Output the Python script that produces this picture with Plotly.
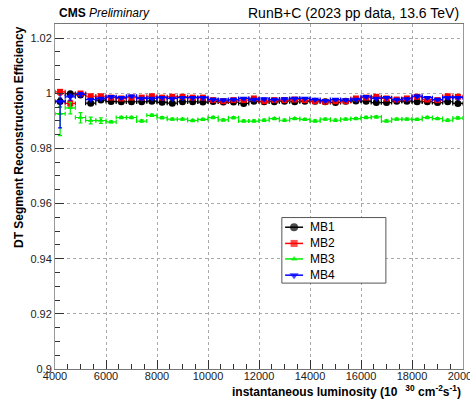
import plotly.graph_objects as go

# Luminosity bins: centres every 400 (x 10^30 cm^-2 s^-1) from 4200 to 19800
lumi_bins = [4200 + 400 * i for i in range(40)]
bin_half_width = 200

mb1 = [0.9970, 0.9998, 0.9994, 0.9964, 0.9975, 0.9970, 0.9969, 0.9969, 0.9969, 0.9971,
       0.9967, 0.9964, 0.9969, 0.9969, 0.9968, 0.9970, 0.9968, 0.9968, 0.9963, 0.9971,
       0.9969, 0.9969, 0.9971, 0.9969, 0.9971, 0.9971, 0.9969, 0.9966, 0.9971, 0.9972,
       0.9971, 0.9966, 0.9966, 0.9971, 0.9971, 0.9969, 0.9969, 0.9966, 0.9969, 0.9963]
mb2 = [1.0005, 0.9963, 0.9999, 0.9989, 0.9989, 0.9984, 0.9981, 0.9984, 0.9984, 0.9989,
       0.9984, 0.9987, 0.9987, 0.9984, 0.9984, 0.9975, 0.9971, 0.9975, 0.9975, 0.9981,
       0.9971, 0.9975, 0.9975, 0.9977, 0.9975, 0.9971, 0.9969, 0.9971, 0.9971, 0.9981,
       0.9984, 0.9987, 0.9981, 0.9977, 0.9981, 0.9987, 0.9977, 0.9975, 0.9989, 0.9987]
mb3 = [0.9926, 0.9947, 0.9912, 0.9901, 0.9901, 0.9896, 0.9912, 0.9912, 0.9899, 0.9920,
       0.9911, 0.9906, 0.9906, 0.9901, 0.9905, 0.9912, 0.9903, 0.9911, 0.9899, 0.9899,
       0.9902, 0.9908, 0.9902, 0.9908, 0.9905, 0.9899, 0.9906, 0.9902, 0.9906, 0.9908,
       0.9912, 0.9914, 0.9899, 0.9906, 0.9906, 0.9905, 0.9912, 0.9908, 0.9902, 0.9910]
mb4 = [0.9969, 0.9987, 0.9996, 0.9977, 0.9981, 0.9987, 0.9984, 0.9989, 0.9981, 0.9981,
       0.9984, 0.9981, 0.9984, 0.9984, 0.9984, 0.9977, 0.9975, 0.9977, 0.9981, 0.9977,
       0.9979, 0.9977, 0.9979, 0.9981, 0.9981, 0.9977, 0.9973, 0.9977, 0.9975, 0.9977,
       0.9987, 0.9981, 0.9984, 0.9977, 0.9979, 0.9989, 0.9984, 0.9977, 0.9984, 0.9984]

# Asymmetric efficiency uncertainties (upper / lower); only the low-statistics bins are large
mb1_up = [0.0012, 0.0006, 0.0005] + [0.0003] * 37
mb1_dn = [0.0020, 0.0008, 0.0006] + [0.0003] * 37
mb2_up = [0.0006, 0.0010, 0.0005] + [0.0003] * 37
mb2_dn = [0.0012, 0.0012, 0.0006] + [0.0003] * 37
mb3_up = [0.0025, 0.0020, 0.0018, 0.0012, 0.0010] + [0.0004] * 35
mb3_dn = [0.0080, 0.0022, 0.0020, 0.0012, 0.0010] + [0.0004] * 35
mb4_up = [0.0030, 0.0010, 0.0006] + [0.0003] * 37
mb4_dn = [0.0095, 0.0012, 0.0008] + [0.0003] * 37

x_ticks = [4000, 6000, 8000, 10000, 12000, 14000, 16000, 18000, 20000]
x_tick_text = ["4000", "6000", "8000", "10000", "12000", "14000", "16000", "18000", "20000"]
y_ticks = [0.9, 0.92, 0.94, 0.96, 0.98, 1.0, 1.02]
y_tick_text = ["0.9", "0.92", "0.94", "0.96", "0.98", "1", "1.02"]

series = [
    ("MB1", mb1, mb1_up, mb1_dn, "#000000", "circle", 7),
    ("MB2", mb2, mb2_up, mb2_dn, "#ff0000", "square", 6),
    ("MB3", mb3, mb3_up, mb3_dn, "#00ee00", "triangle-up", 5),
    ("MB4", mb4, mb4_up, mb4_dn, "#0000ff", "triangle-down", 7),
]

FONT = "Liberation Sans, Arial, sans-serif"
fig = go.Figure()
for name, vals, up, dn, color, symbol, size in series:
    fig.add_trace(go.Scatter(
        x=lumi_bins, y=vals, mode="markers", name=name, showlegend=False,
        marker=dict(color=color, symbol=symbol, size=size, line=dict(width=0)),
        error_x=dict(type="constant", value=bin_half_width, color=color,
                     thickness=1.2, width=2),
        error_y=dict(type="data", symmetric=False, array=up, arrayminus=dn,
                     color=color, thickness=1.2, width=2),
    ))

# Legend drawn in a unit overlay frame covering the plot area
leg_x0, leg_x1, leg_y0, leg_y1 = 0.556, 0.811, 0.249, 0.439
row_y = [0.411, 0.364, 0.319, 0.272]
line_x0, line_x1, text_x = 0.564, 0.608, 0.619

fig.add_trace(go.Scatter(
    x=[leg_x0, leg_x1, leg_x1, leg_x0, leg_x0], y=[leg_y0, leg_y0, leg_y1, leg_y1, leg_y0],
    mode="lines", fill="toself", fillcolor="white", line=dict(color="#555", width=1),
    xaxis="x2", yaxis="y2", showlegend=False, hoverinfo="skip",
))
for (name, vals, up, dn, color, symbol, size), ry in zip(series, row_y):
    fig.add_trace(go.Scatter(
        x=[line_x0, line_x1], y=[ry, ry], mode="lines", line=dict(color=color, width=1.5),
        xaxis="x2", yaxis="y2", showlegend=False, hoverinfo="skip",
    ))
    fig.add_annotation(xref="x2", yref="y2", x=text_x, y=ry, xanchor="left", yanchor="middle",
                       text=name, showarrow=False,
                       font=dict(family=FONT, size=12, color="#000"))
fig.add_trace(go.Scatter(
    x=[(line_x0 + line_x1) / 2] * 4, y=row_y, mode="markers", xaxis="x2", yaxis="y2",
    showlegend=False, hoverinfo="skip",
    marker=dict(color=[s[4] for s in series], symbol=[s[5] for s in series],
                size=[s[6] + 1 for s in series], line=dict(width=0)),
))

axis_font = dict(family=FONT, size=11, color="#222")

fig.update_layout(
    width=470, height=399,
    margin=dict(l=55, r=7, t=24, b=30, autoexpand=False),
    paper_bgcolor="white", plot_bgcolor="white",
    font=axis_font,
    showlegend=False,
    xaxis=dict(
        range=[4000, 20000], tickvals=x_ticks, ticktext=x_tick_text, ticks="inside", ticklen=9,
        tickcolor="#333", showline=True, linecolor="#777", linewidth=1, mirror=True,
        showgrid=True, gridcolor="#aaa", griddash="dot", gridwidth=1,
        zeroline=False, tickfont=axis_font, ticklabeloverflow="allow",
        ticklabelstandoff=-3, automargin=False,
        minor=dict(dtick=500, ticks="inside", ticklen=5, tickcolor="#333", showgrid=False),
    ),
    yaxis=dict(
        range=[0.9, 1.0251], tickvals=y_ticks, ticktext=y_tick_text, ticks="inside",
        ticklen=9, tickcolor="#333", showline=True, linecolor="#999", linewidth=1,
        mirror=True, showgrid=True, gridcolor="#aaa", griddash="dot", gridwidth=1,
        zeroline=False, tickfont=axis_font, automargin=False,
        minor=dict(dtick=0.005, ticks="inside", ticklen=5, tickcolor="#333", showgrid=False),
    ),
    xaxis2=dict(overlaying="x", range=[0, 1], visible=False, fixedrange=True),
    yaxis2=dict(overlaying="y", range=[0, 1], visible=False, fixedrange=True),
)

fig.add_annotation(
    xref="paper", yref="paper", x=0, y=1, xanchor="center", yanchor="top",
    xshift=-36, textangle=-90, showarrow=False,
    text="<b>DT Segment Reconstruction Efficiency</b>",
    font=dict(family=FONT, size=12, color="#000"),
)
fig.add_annotation(
    xref="paper", yref="paper", x=1, y=0, xanchor="right", yanchor="top",
    yshift=-12, showarrow=False,
    text="<b>instantaneous luminosity (10 <sup>  30</sup> cm<sup>-2</sup>s<sup>-1</sup>)</b>",
    font=dict(family=FONT, size=12, color="#000"),
)
fig.add_annotation(
    xref="paper", yref="paper", x=0.005, y=1, xanchor="left", yanchor="bottom",
    yshift=2, showarrow=False,
    text="<b>CMS</b> <i>Preliminary</i>",
    font=dict(family=FONT, size=12, color="#000"),
)
fig.add_annotation(
    xref="paper", yref="paper", x=0.995, y=1, xanchor="right", yanchor="bottom",
    yshift=1, showarrow=False,
    text="RunB+C (2023 pp data, 13.6 TeV)",
    font=dict(family=FONT, size=14, color="#000"),
)

fig.write_html("out.html")
